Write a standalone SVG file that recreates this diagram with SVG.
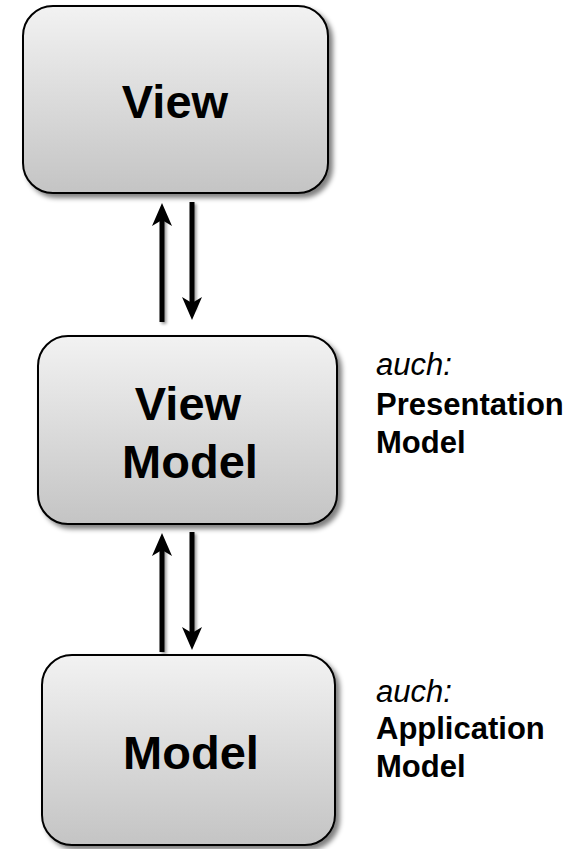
<svg xmlns="http://www.w3.org/2000/svg" width="581" height="849" viewBox="0 0 581 849">
<style>
.box{fill:url(#g);stroke:#000;stroke-width:2;filter:url(#sh)}
.t{font-family:"Liberation Sans",Arial,sans-serif;font-weight:bold;font-size:47px;fill:#000;text-anchor:middle}
.s{font-family:"Liberation Sans",Arial,sans-serif;font-size:31px;fill:#000}
.sb{font-weight:bold}
.si{font-style:italic}
.c{stroke:#000;stroke-width:5;fill:none;filter:url(#sh2)}
.h{fill:#000}
</style>
<defs>
<linearGradient id="g" x1="0" y1="0" x2="0" y2="1">
<stop offset="0" stop-color="#f2f2f2"/>
<stop offset="1" stop-color="#c4c4c4"/>
</linearGradient>
<filter id="sh" x="-10%" y="-10%" width="125%" height="125%">
<feGaussianBlur in="SourceAlpha" stdDeviation="2.5"/>
<feOffset dx="4" dy="4"/>
<feComponentTransfer><feFuncA type="linear" slope="0.5"/></feComponentTransfer>
<feMerge><feMergeNode/><feMergeNode in="SourceGraphic"/></feMerge>
</filter>
<filter id="sh2" x="-100%" y="-10%" width="300%" height="125%">
<feGaussianBlur in="SourceAlpha" stdDeviation="1.5"/>
<feOffset dx="2" dy="2"/>
<feComponentTransfer><feFuncA type="linear" slope="0.4"/></feComponentTransfer>
<feMerge><feMergeNode/><feMergeNode in="SourceGraphic"/></feMerge>
</filter>
</defs>
<g id="view">
<rect class="box" x="23" y="6" width="305" height="187" rx="30"/>
<text class="t" x="175" y="118">View</text>
</g>
<g id="viewmodel">
<rect class="box" x="38" y="336" width="299" height="188" rx="30"/>
<text class="t" x="188" y="420">View</text>
<text class="t" x="190" y="478">Model</text>
</g>
<g id="model">
<rect class="box" x="42" y="655" width="293" height="190" rx="30"/>
<text class="t" x="191" y="769">Model</text>
</g>
<g id="labels">
<text class="s si" x="376" y="375">auch:</text>
<text class="s sb" x="376" y="415">Presentation</text>
<text class="s sb" x="376" y="453">Model</text>
<text class="s si" x="376" y="702">auch:</text>
<text class="s sb" x="376" y="739">Application</text>
<text class="s sb" x="376" y="777">Model</text>
</g>
<g id="connectors">
<g class="c">
<path d="M162 322V215"/>
<path d="M192 202V308"/>
<path d="M162 652V545"/>
<path d="M192 532V638"/>
</g>
<g class="h">
<path d="M162 203L172 226L162 220L152 226Z"/>
<path d="M192 320L202 297L192 303L182 297Z"/>
<path d="M162 533L172 556L162 550L152 556Z"/>
<path d="M192 650L202 627L192 633L182 627Z"/>
</g>
</g>
</svg>
